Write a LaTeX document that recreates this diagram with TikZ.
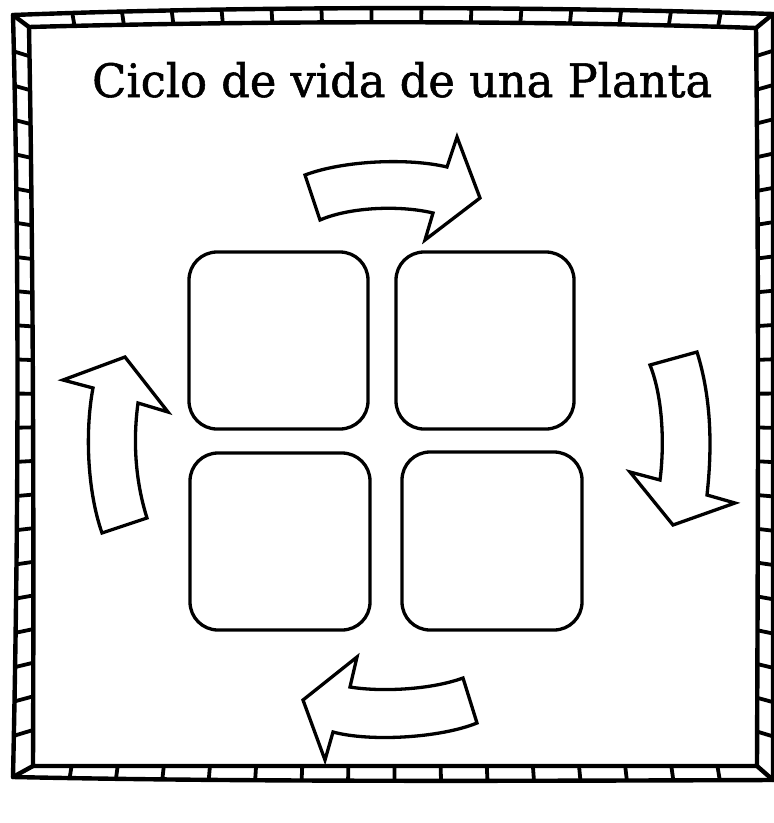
\documentclass[tikz,border=0pt]{standalone}
\usepackage{fontspec}
\usepackage{graphicx}
\newfontfamily\titlefont[FakeBold=1.2]{DejaVu Serif}
\begin{document}
\begin{tikzpicture}[x=1pt,y=-1pt,
  frameline/.style={line width=4.4pt, line join=round, line cap=round},
  hatchline/.style={line width=3.8pt},
  cardbox/.style={draw, rectangle, rounded corners=28pt, line width=3.3pt, inner sep=0pt},
  bigarrow/.style={draw, line width=3.3pt, line join=miter, fill=white}]
\fill[white] (0,0) rectangle (774,823);
\useasboundingbox (0,0) rectangle (774,823);
% hatches in the frame band
\begin{scope}[even odd rule]
\clip
  (13,15) .. controls (250,6) and (530,6) .. (773,14) -- (773,780)
  .. controls (500,781) and (250,782) .. (13,777)
  .. controls (19,500) and (19,250) .. cycle
  (29,27) .. controls (250,21) and (530,20) .. (756,28)
  .. controls (759,300) and (758,500) .. (757,766)
  -- (33,766) .. controls (34,500) and (33,250) .. cycle;
\foreach \i in {0,...,13} {
  \pgfmathsetmacro\hx{70+50.23*\i}
  \pgfmathsetmacro\hd{(387-\hx)*0.022}
  \draw[hatchline] (\hx,0) -- (\hx+\hd,40);
}
\foreach \i in {0,...,14} {
  \pgfmathsetmacro\hx{67+46.8*\i}
  \pgfmathsetmacro\hd{(387-\hx)*0.022}
  \draw[hatchline] (\hx,795) -- (\hx+\hd,750);
}
\foreach \i in {0,...,20} {
  \pgfmathsetmacro\hy{47+34.65*\i}
  \pgfmathsetmacro\hd{(400-\hy)*0.04}
  \draw[hatchline] (0,\hy) -- (45,\hy+\hd);
  \draw[hatchline] (785,\hy) -- (740,\hy+\hd);
}
\end{scope}
% frame outlines
\draw[frameline] (13,15) .. controls (250,6) and (530,6) .. (773,14) -- (773,780)
  .. controls (500,781) and (250,782) .. (13,777)
  .. controls (19,500) and (19,250) .. cycle;
\draw[frameline] (29,27) .. controls (250,21) and (530,20) .. (756,28)
  .. controls (759,300) and (758,500) .. (757,766)
  -- (33,766) .. controls (34,500) and (33,250) .. cycle;
\draw[frameline] (13,15) -- (29,27);
\draw[frameline] (773,14) -- (756,28);
\draw[frameline] (773,780) -- (757,766);
\draw[frameline] (13,777) -- (33,766);
% title
\node[anchor=base west, inner sep=0pt] (title) at (92,97)
  {\resizebox{620pt}{35pt}{\titlefont Ciclo de vida de una Planta}};
% boxes
\node[cardbox, minimum width=179pt, minimum height=177pt] (b1) at (278.5,340.5) {};
\node[cardbox, minimum width=178pt, minimum height=177pt] (b2) at (485,340.5) {};
\node[cardbox, minimum width=180pt, minimum height=177pt] (b3) at (280,541.5) {};
\node[cardbox, minimum width=180pt, minimum height=178pt] (b4) at (492,541) {};
% arrows
\draw[bigarrow] (305,175) .. controls (345,160) and (410,158) .. (447,167)
  -- (457,137) -- (480,198) -- (425,240) -- (433,213)
  .. controls (400,205) and (350,207) .. (320,220) -- cycle;
\draw[bigarrow] (650,365) -- (697,352) .. controls (712,400) and (712,450) .. (707,495)
  -- (735,503) -- (673,525) -- (630,472) -- (660,480)
  .. controls (664,450) and (664,400) .. (650,365) -- cycle;
\draw[bigarrow] (463,678) -- (477,723) .. controls (440,738) and (370,742) .. (333,732)
  -- (325,760) -- (303,700) -- (357,657) -- (350,687)
  .. controls (380,692) and (430,690) .. (463,678) -- cycle;
\draw[bigarrow] (102,533) -- (147,518) .. controls (135,480) and (133,440) .. (138,403)
  -- (168,412) -- (125,357) -- (63,380) -- (93,388)
  .. controls (85,430) and (87,490) .. (102,533) -- cycle;
\end{tikzpicture}
\end{document}
